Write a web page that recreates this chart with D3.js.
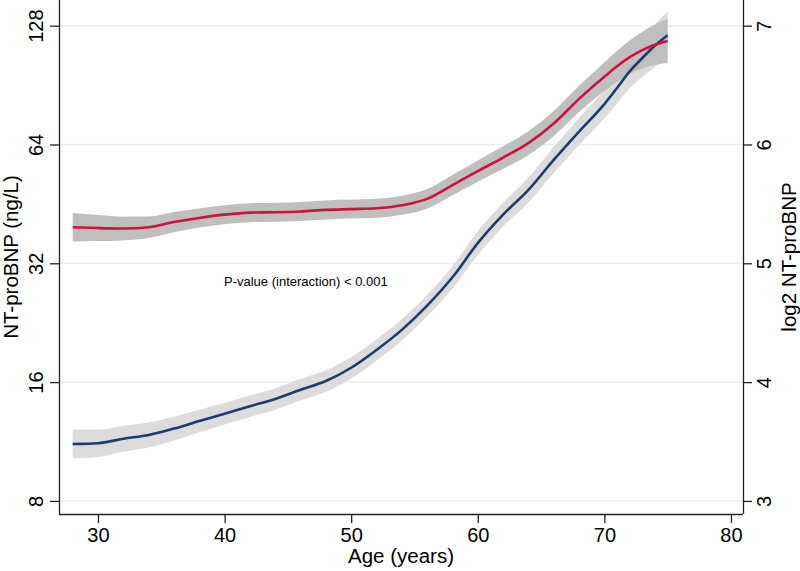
<!DOCTYPE html>
<html><head><meta charset="utf-8">
<script src="https://cdn.jsdelivr.net/npm/d3@7"></script>
<style>body{margin:0;background:#fff}svg{display:block}text{font-family:"Liberation Sans",Arial,sans-serif;fill:#000}</style>
</head><body>
<svg id="c" width="800" height="571"></svg>
<script>
const ages      = [28,30,32,34,36,38,40,42,44,46,48,50,52,54,56,58,60,62,64,66,68,70,71,72,73,74,75];
const redMean   = [39.5,39.3,39.2,39.5,40.7,41.7,42.5,43.0,43.1,43.3,43.7,43.9,44.1,44.9,46.6,50.5,54.8,59.3,64.5,72.3,83.5,95,101,106.5,111,114.5,117];
const redLow    = [36.35,36.42,36.57,37.11,38.37,39.45,40.21,40.68,40.78,40.96,41.34,41.53,41.72,42.48,44.02,47.61,51.48,55.52,60.18,67.22,77.37,87.42,92.30,96.65,99.69,101.77,102.91];
const redHigh   = [42.93,42.41,42.01,42.04,43.17,44.08,44.92,45.45,45.56,45.77,46.19,46.40,46.61,47.46,49.33,53.57,58.33,63.34,69.13,77.76,90.11,103.24,110.52,117.35,123.59,128.82,133.02];
const blueMean  = [11.15,11.2,11.5,11.75,12.2,12.75,13.3,13.9,14.5,15.3,16.1,17.4,19.3,21.7,25.0,29.5,36.0,42.5,49.1,58.5,69,81,89,98,106,114,121];
const blueLow   = [10.26,10.34,10.66,10.93,11.38,11.94,12.50,13.06,13.62,14.37,15.13,16.35,18.13,20.39,23.49,27.62,33.59,39.65,45.65,54.21,63.72,74.54,81.33,88.94,94.87,100.63,105.34];
const blueHigh  = [12.12,12.13,12.41,12.64,13.08,13.62,14.16,14.80,15.43,16.29,17.14,18.52,20.54,23.10,26.61,31.51,38.58,45.55,52.81,63.13,74.72,88.02,97.39,107.99,118.43,129.15,138.99];
const xTicks    = [30,40,50,60,70,80];
const yTicksLeft  = [8,16,32,64,128];
const yTicksRight = [3,4,5,6,7];
const annotation = "P-value (interaction) < 0.001";

const svg = d3.select("#c");
const L = 59, R = 743, T = 0, B = 514;
const x = d3.scaleLinear().domain([26.92, 80.95]).range([L, R]);
const yL = d3.scaleLog().base(2).domain([Math.pow(2,2.890), Math.pow(2,7.216)]).range([B, T]);
const yR = d3.scaleLinear().domain([2.890, 7.216]).range([B, T]);

// gridlines
svg.append("g").selectAll("line").data(yTicksLeft).join("line")
  .attr("x1", L).attr("x2", R).attr("y1", d=>yL(d)).attr("y2", d=>yL(d))
  .attr("stroke", "#e6eff1").attr("stroke-width", 1.5);

const rows = ages.map((a,i)=>({a, rm:redMean[i], rl:redLow[i], rh:redHigh[i], bm:blueMean[i], bl:blueLow[i], bh:blueHigh[i]}));
const curve = d3.curveMonotoneX;
const area = (lo,hi)=>d3.area().curve(curve).x(d=>x(d.a)).y0(d=>yL(d[lo])).y1(d=>yL(d[hi]));
const line = (k)=>d3.line().curve(curve).x(d=>x(d.a)).y(d=>yL(d[k]));

svg.append("path").datum(rows).attr("d", area("bl","bh")).attr("fill", "#dcdcdc");
svg.append("path").datum(rows).attr("d", area("rl","rh")).attr("fill", "#bfbfbf");
svg.append("path").datum(rows).attr("d", line("bm")).attr("fill","none").attr("stroke","#1f3a6e").attr("stroke-width",2.6);
svg.append("path").datum(rows).attr("d", line("rm")).attr("fill","none").attr("stroke","#cc123e").attr("stroke-width",2.6);

// axes
const fs = "20px";
const ax = svg.append("g").attr("transform",`translate(0,${B})`)
  .call(d3.axisBottom(x).tickValues(xTicks).tickSize(9).tickFormat(d3.format("d")));
ax.select(".domain").attr("d", `M${L},0.5H${R}`).attr("stroke","#222").attr("stroke-width",1.3);
ax.selectAll(".tick line").attr("stroke","#222").attr("stroke-width",1.3);
ax.selectAll(".tick text").style("font-size", fs).attr("y", 28).attr("dy","0");

const al = svg.append("g").attr("transform",`translate(${L},0)`)
  .call(d3.axisLeft(yL).tickValues(yTicksLeft).tickSize(9).tickFormat(d3.format("d")));
al.select(".domain").attr("d", `M0.5,${T}V${B}`).attr("stroke","#222").attr("stroke-width",1.3);
al.selectAll(".tick line").attr("stroke","#222").attr("stroke-width",1.3);
al.selectAll(".tick text").style("font-size", fs).attr("x",null).attr("dy","0")
  .attr("transform","translate(-16,0) rotate(-90)").attr("text-anchor","middle");

const ar = svg.append("g").attr("transform",`translate(${R},0)`)
  .call(d3.axisRight(yR).tickValues(yTicksRight).tickSize(9).tickFormat(d3.format("d")));
ar.select(".domain").attr("d", `M0.5,${T}V${B}`).attr("stroke","#222").attr("stroke-width",1.3);
ar.selectAll(".tick line").attr("stroke","#222").attr("stroke-width",1.3);
ar.selectAll(".tick text").style("font-size", fs).attr("x",null).attr("dy","0")
  .attr("transform","translate(28,0) rotate(-90)").attr("text-anchor","middle");

svg.selectAll(".tick text").attr("fill","#000");
svg.selectAll(".domain").attr("fill","none");

// titles
svg.append("text").attr("transform",`translate(18,${(T+B)/2}) rotate(-90)`).attr("text-anchor","middle")
  .style("font-size","20.5px").text("NT-proBNP (ng/L)");
svg.append("text").attr("transform",`translate(796,${(T+B)/2}) rotate(-90)`).attr("text-anchor","middle")
  .style("font-size","20.5px").text("log2 NT-proBNP");
svg.append("text").attr("x",(L+R)/2).attr("y",563).attr("text-anchor","middle")
  .style("font-size","20.5px").text("Age (years)");
svg.append("text").attr("x",224).attr("y",286).style("font-size","13px").text(annotation);
</script>
</body></html>
